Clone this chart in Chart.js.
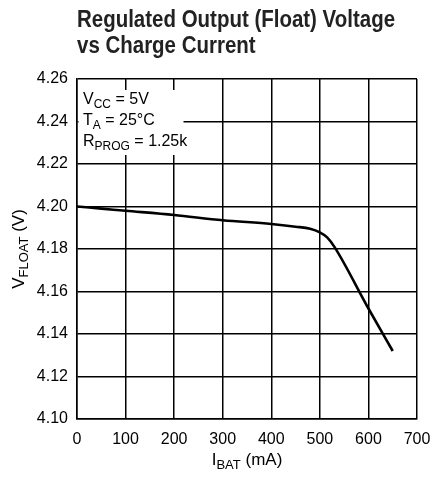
<!DOCTYPE html>
<html>
<head>
<meta charset="utf-8">
<script src="https://cdn.jsdelivr.net/npm/chart.js@4.4.1/dist/chart.umd.min.js"></script>
<style>
  html, body { margin: 0; padding: 0; background: #fff; }
  #wrap { width: 430px; height: 480px; position: relative; }
</style>
</head>
<body>
<div id="wrap"><canvas id="chart"></canvas></div>
<script>
// --- datos ---
const currentMA = [0, 50, 100, 200, 300, 400, 450, 480, 500, 515, 530, 600, 650];
const vFloat = [4.200, 4.199, 4.198, 4.196, 4.1935, 4.1918, 4.1905, 4.1895, 4.1878, 4.1855, 4.181, 4.152, 4.132];
const xTicks = [0, 100, 200, 300, 400, 500, 600, 700];
const yTicks = [4.10, 4.12, 4.14, 4.16, 4.18, 4.20, 4.22, 4.24, 4.26];
const titleLines = ['Regulated Output (Float) Voltage', 'vs Charge Current'];
const condLines = [['V', 'CC', ' = 5V'], ['T', 'A', ' = 25°C'], ['R', 'PROG', ' = 1.25k']];

const FONT = "'Liberation Sans', Arial, sans-serif";

// texto con subíndice: [base, sub, resto]
function drawSub(ctx, x, y, parts, size) {
    ctx.font = size + 'px ' + FONT;
    ctx.fillText(parts[0], x, y);
    x += ctx.measureText(parts[0]).width;
    ctx.font = Math.round(size * 0.75) + 'px ' + FONT;
    ctx.fillText(parts[1], x, y + size * 0.3);
    x += ctx.measureText(parts[1]).width;
    ctx.font = size + 'px ' + FONT;
    ctx.fillText(parts[2], x, y);
    return x + ctx.measureText(parts[2]).width;
}

function subWidth(ctx, parts, size) {
    ctx.font = size + 'px ' + FONT;
    let w = ctx.measureText(parts[0]).width + ctx.measureText(parts[2]).width;
    ctx.font = Math.round(size * 0.75) + 'px ' + FONT;
    return w + ctx.measureText(parts[1]).width;
}

const decor = {
    id: 'decor',
    beforeDatasetsDraw(chart) {
        const ctx = chart.ctx, a = chart.chartArea;
        // caja blanca de condiciones
        ctx.save();
        ctx.fillStyle = '#fff';
        ctx.fillRect(a.left + 1.5, a.top + 11, 105, 65);
        ctx.fillStyle = '#000';
        ctx.textBaseline = 'middle';
        condLines.forEach((p, i) => drawSub(ctx, a.left + 6, a.top + 21 + i * 21, p, 16));
        ctx.restore();
    },
    afterDraw(chart) {
        const ctx = chart.ctx, a = chart.chartArea;
        ctx.save();
        ctx.fillStyle = '#222';
        ctx.textBaseline = 'middle';
        ctx.font = 'bold 23px ' + FONT;
        ctx.save();
        ctx.translate(77, 0);
        ctx.scale(0.89, 1);
        titleLines.forEach((t, i) => ctx.fillText(t, 0, 21 + i * 26));
        ctx.restore();
        ctx.fillStyle = '#000';
        // título eje X
        const xp = ['I', 'BAT', ' (mA)'];
        const xw = subWidth(ctx, xp, 17);
        drawSub(ctx, (a.left + a.right) / 2 - xw / 2, 460, xp, 17);
        // título eje Y
        const yp = ['V', 'FLOAT', ' (V)'];
        const yw = subWidth(ctx, yp, 17);
        ctx.translate(19, (a.top + a.bottom) / 2);
        ctx.rotate(-Math.PI / 2);
        drawSub(ctx, -yw / 2, 0, yp, 17);
        ctx.restore();
    }
};

new Chart(document.getElementById('chart').getContext('2d'), {
    type: 'line',
    data: {
        datasets: [{
            data: currentMA.map((x, i) => ({ x: x, y: vFloat[i] })),
            borderColor: '#000',
            borderWidth: 2.6,
            pointRadius: 0,
            cubicInterpolationMode: 'monotone',
            fill: false
        }]
    },
    options: {
        responsive: true,
        maintainAspectRatio: false,
        animation: false,
        layout: { padding: { left: 0, top: 79, right: 0, bottom: 0 } },
        plugins: { legend: { display: false }, tooltip: { enabled: false } },
        scales: {
            x: {
                type: 'linear', min: 0, max: 700,
                afterBuildTicks: s => { s.ticks = xTicks.map(v => ({ value: v })); },
                afterFit: s => { s.height = 61; s.paddingRight = 13; s.paddingLeft = 0; },
                grid: { color: '#000', lineWidth: 1.5, drawTicks: false },
                border: { color: '#000', width: 1.5 },
                ticks: { color: '#000', font: { family: FONT, size: 16 }, padding: 11, maxRotation: 0 }
            },
            y: {
                type: 'linear', min: 4.10, max: 4.26,
                afterBuildTicks: s => { s.ticks = yTicks.map(v => ({ value: v })); },
                afterFit: s => { s.width = 77; s.paddingTop = 0; s.paddingBottom = 0; },
                grid: { color: '#000', lineWidth: 1.5, drawTicks: false },
                border: { color: '#000', width: 1.5 },
                ticks: { color: '#000', font: { family: FONT, size: 16 }, padding: 9,
                         callback: v => v.toFixed(2) }
            }
        }
    },
    plugins: [decor]
});
</script>
</body>
</html>
